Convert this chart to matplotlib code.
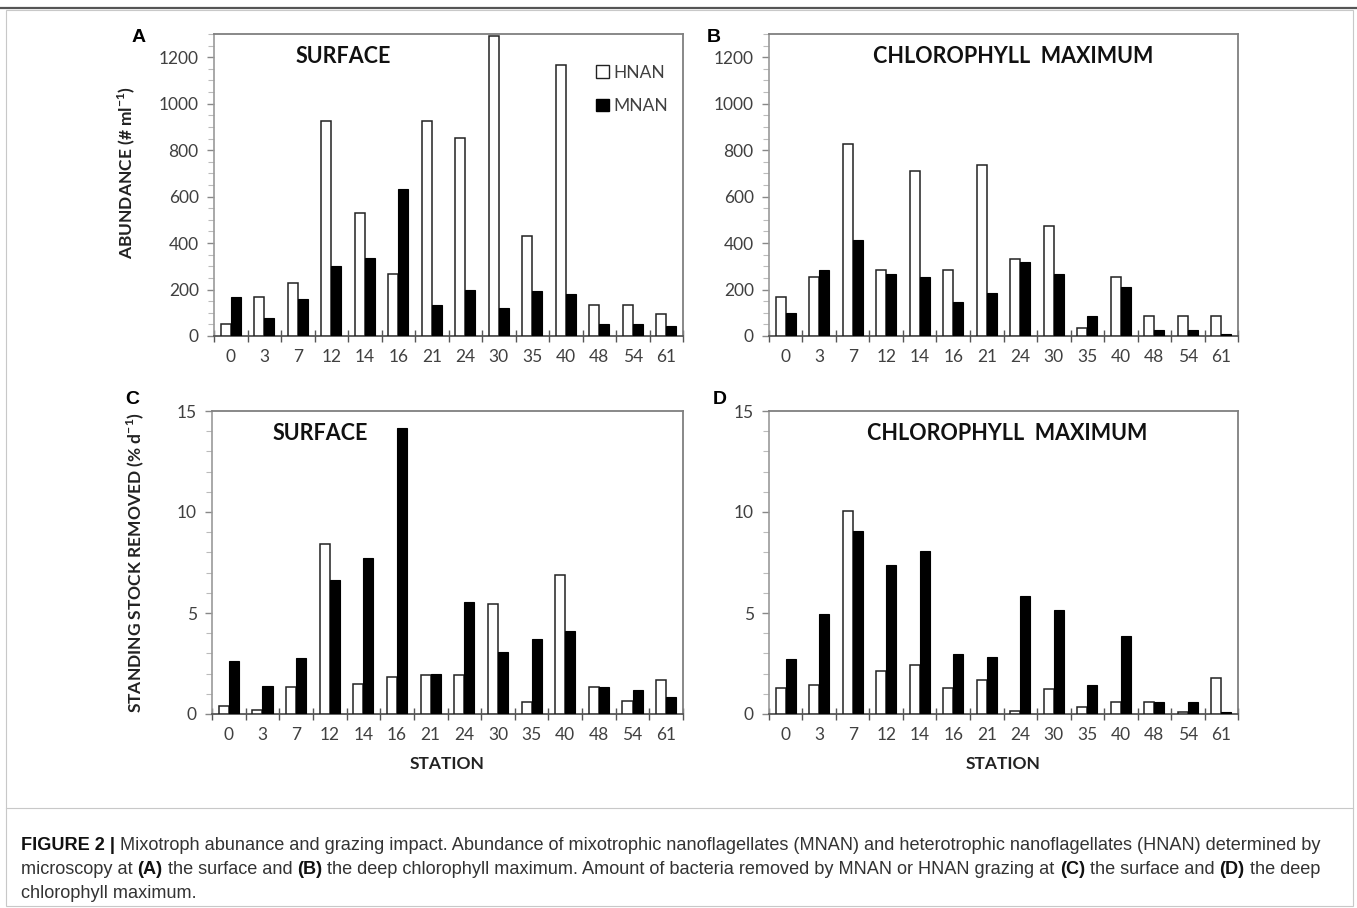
import matplotlib

matplotlib.use("Agg")
import matplotlib.pyplot as plt
import numpy as np
from matplotlib.lines import Line2D
from matplotlib.patches import Patch, Rectangle
from matplotlib.ticker import FixedLocator, MultipleLocator

stations = ["0", "3", "7", "12", "14", "16", "21", "24", "30", "35", "40", "48", "54", "61"]

# abundance (# ml-1)
surface_hnan = [50, 166, 228, 925, 530, 267, 925, 852, 1290, 430, 1168, 132, 132, 93]
surface_mnan = [170, 76, 158, 303, 336, 631, 134, 199, 120, 192, 182, 50, 50, 43]
chl_hnan = [166, 254, 825, 285, 709, 285, 738, 331, 473, 33, 254, 88, 88, 88]
chl_mnan = [98, 285, 412, 267, 255, 146, 184, 318, 267, 84, 210, 26, 26, 7]

# standing stock removed (% d-1)
graze_surface_hnan = [0.38, 0.2, 1.32, 8.4, 1.48, 1.81, 1.93, 1.93, 5.44, 0.61, 6.87, 1.32, 0.66, 1.66]
graze_surface_mnan = [2.64, 1.4, 2.78, 6.62, 7.7, 14.17, 1.98, 5.52, 3.08, 3.7, 4.09, 1.32, 1.19, 0.82]
graze_chl_hnan = [1.29, 1.45, 10.03, 2.11, 2.41, 1.29, 1.67, 0.16, 1.24, 0.35, 0.59, 0.59, 0.08, 1.78]
graze_chl_mnan = [2.74, 4.97, 9.04, 7.39, 8.05, 2.97, 2.8, 5.86, 5.16, 1.45, 3.84, 0.59, 0.59, 0.08]

plt.rcParams["font.family"] = ["Lato", "DejaVu Sans"]
plt.rcParams["mathtext.fontset"] = "custom"
plt.rcParams["mathtext.rm"] = "Lato"
plt.rcParams["mathtext.bf"] = "Lato:bold"

W, H = 1357, 908
fig = plt.figure(figsize=(W / 100, H / 100), dpi=100)

TICK_COLOR = "#404040"
SPINE_COLOR = "#7f7f7f"


def axes_at(left, top, right, bottom):
    return fig.add_axes([left / W, 1 - bottom / H, (right - left) / W, (bottom - top) / H])


def draw_panel(ax, hnan, mnan, ymax, major, minor, title, title_x):
    x = np.arange(len(stations))
    width = 0.3
    ax.bar(x - width / 2, hnan, width, color="white", edgecolor="#222222", linewidth=1.1, zorder=3)
    ax.bar(x + width / 2, mnan, width, color="black", edgecolor="black", linewidth=0.8, zorder=3)
    ax.set_xlim(-0.5, len(stations) - 0.5)
    ax.set_ylim(0, ymax)
    ax.set_xticks(x)
    ax.set_xticklabels(stations)
    ax.xaxis.set_minor_locator(FixedLocator(np.arange(-0.5, len(stations), 1.0)))
    ax.tick_params(axis="x", which="major", length=0, pad=9, labelsize=12.5, labelcolor=TICK_COLOR)
    ax.tick_params(axis="x", which="minor", direction="inout", length=9, width=1.0, color="#555555")
    ax.yaxis.set_major_locator(MultipleLocator(major))
    ax.yaxis.set_minor_locator(MultipleLocator(minor))
    ax.tick_params(axis="y", which="major", direction="out", length=5, width=1.0,
                   color="#888888", labelsize=12.5, labelcolor=TICK_COLOR, pad=6)
    ax.tick_params(axis="y", which="minor", direction="out", length=4, width=0.8, color="#bbbbbb")
    for side in ["top", "right"]:
        ax.spines[side].set_color(SPINE_COLOR)
        ax.spines[side].set_linewidth(1.3)
    ax.spines["left"].set_color("#9a9a9a")
    ax.spines["left"].set_linewidth(1.2)
    ax.spines["bottom"].set_color("#555555")
    ax.spines["bottom"].set_linewidth(1.3)
    ax.text(title_x, 0.925, title, transform=ax.transAxes, ha="center", va="center",
            fontsize=15.5, fontweight="bold", color="#111111")


ax_a = axes_at(214, 34, 683, 336)
ax_b = axes_at(769, 34, 1238, 336)
ax_c = axes_at(212, 411, 683, 714)
ax_d = axes_at(769, 411, 1238, 714)

draw_panel(ax_a, surface_hnan, surface_mnan, 1300, 200, 50, "SURFACE", 0.275)
draw_panel(ax_b, chl_hnan, chl_mnan, 1300, 200, 50, "CHLOROPHYLL  MAXIMUM", 0.52)
draw_panel(ax_c, graze_surface_hnan, graze_surface_mnan, 15, 5, 1, "SURFACE", 0.23)
draw_panel(ax_d, graze_chl_hnan, graze_chl_mnan, 15, 5, 1, "CHLOROPHYLL  MAXIMUM", 0.507)

ax_a.set_ylabel(r"ABUNDANCE (# ml$^{\mathbf{-1}}$)", fontsize=12.5, fontweight="bold", color="#222222")
ax_a.yaxis.set_label_coords(-0.165, 0.54)
ax_c.set_ylabel(r"STANDING STOCK REMOVED (% d$^{\mathbf{-1}}$)", fontsize=12.5, fontweight="bold",
                color="#222222")
ax_c.yaxis.set_label_coords(-0.14, 0.5)
for ax in (ax_c, ax_d):
    ax.set_xlabel("STATION", fontsize=12.5, fontweight="bold", color="#222222", labelpad=10)

handles = [Patch(facecolor="white", edgecolor="#222222", linewidth=1.0, label="HNAN"),
           Patch(facecolor="black", edgecolor="black", label="MNAN")]
ax_a.legend(handles=handles, loc="upper left", bbox_to_anchor=(0.782, 0.95), frameon=False,
            fontsize=12.5, handlelength=0.75, handleheight=0.75, handletextpad=0.25,
            labelspacing=1.0, labelcolor=TICK_COLOR)

for letter, (px, py) in {"A": (132, 37), "B": (707, 37), "C": (125, 400), "D": (713, 400)}.items():
    fig.text(px / W, 1 - py / H, letter, ha="left", va="center", fontsize=14, fontweight="bold",
             family=["Liberation Sans", "DejaVu Sans"])

# page frame
fig.add_artist(Line2D([0, 1], [1 - 8 / H, 1 - 8 / H], transform=fig.transFigure, color="#555555", lw=1.6))
fig.add_artist(Rectangle((6 / W, 2 / H), 1347 / W, (H - 12) / H, transform=fig.transFigure,
                         fill=False, edgecolor="#c8c8c8", lw=0.8))
fig.add_artist(Line2D([6 / W, 1353 / W], [1 - 808 / H, 1 - 808 / H], transform=fig.transFigure,
                      color="#c8c8c8", lw=0.8))

# caption with mixed bold / regular segments
caption_lines = [
    [("FIGURE 2 |", "bold"),
     (" Mixotroph abunance and grazing impact. Abundance of mixotrophic nanoflagellates (MNAN) "
      "and heterotrophic nanoflagellates (HNAN) determined by", "normal")],
    [("microscopy at ", "normal"), ("(A)", "bold"), (" the surface and ", "normal"), ("(B)", "bold"),
     (" the deep chlorophyll maximum. Amount of bacteria removed by MNAN or HNAN grazing at ", "normal"),
     ("(C)", "bold"), (" the surface and ", "normal"), ("(D)", "bold"), (" the deep", "normal")],
    [("chlorophyll maximum.", "normal")],
]
caption_font = ["Liberation Sans Narrow", "Liberation Sans", "DejaVu Sans"]
renderer = fig.canvas.get_renderer()
for line, y_px in zip(caption_lines, [850, 874, 898]):
    x_px = 21
    for text, weight in line:
        t = fig.text(x_px / W, 1 - y_px / H, text, ha="left", va="baseline", fontsize=13.1,
                     fontweight=weight, family=caption_font,
                     color="#111111" if weight == "bold" else "#333333")
        x_px += t.get_window_extent(renderer).width

fig.savefig("out.png", dpi=100, facecolor="white")
